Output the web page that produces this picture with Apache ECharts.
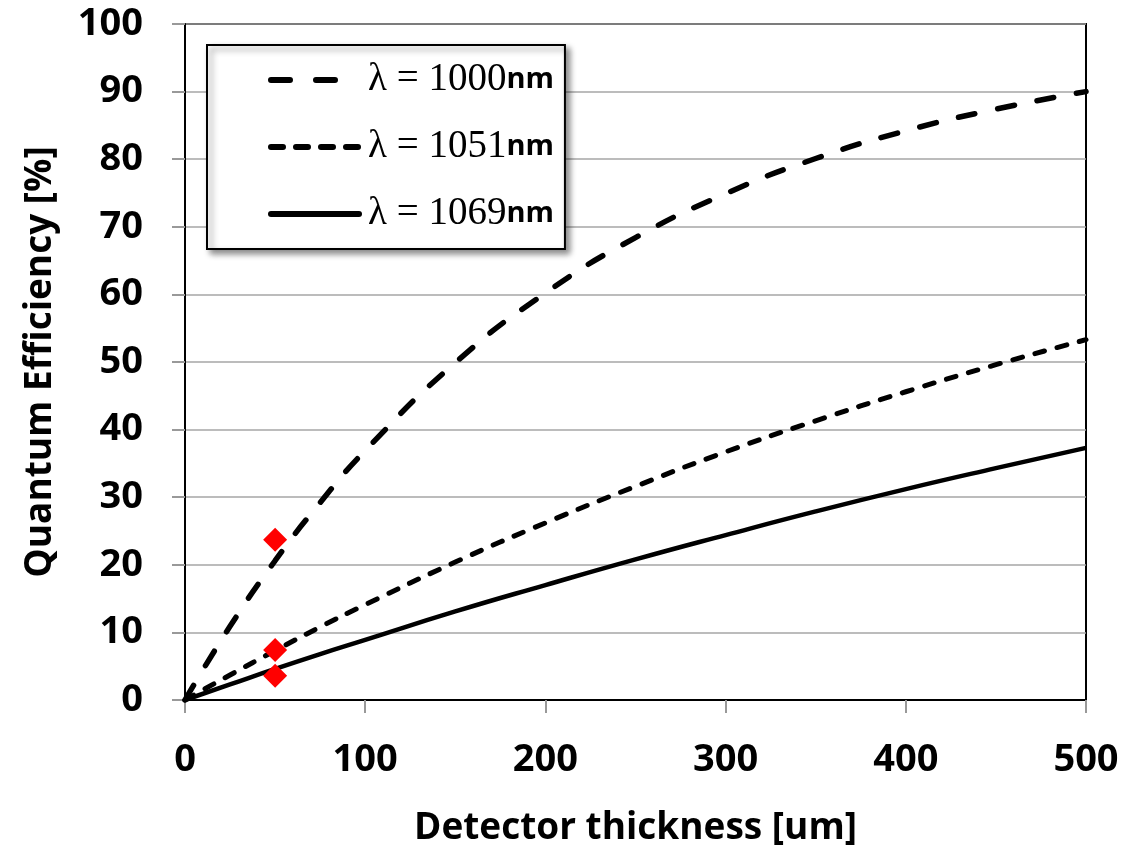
<!DOCTYPE html>
<html>
<head>
<meta charset="utf-8">
<script src="https://cdn.jsdelivr.net/npm/echarts@6/dist/echarts.min.js"></script>
<style>
  html, body { margin: 0; padding: 0; background: #fff; }
  #chart { width: 1127px; height: 846px; }
</style>
</head>
<body>
<div id="chart"></div>
<script>
  // 横坐标 (探测器厚度 um)
  const thickness = [0, 25, 50, 75, 100, 150, 200, 250, 300, 350, 400, 450, 500]
  // 量子效率 [%]
  const qe1000 = [0, 10.9, 20.6, 29.2, 36.9, 49.9, 60.2, 68.4, 74.9, 80.1, 84.2, 87.4, 90.0]
  const qe1051 = [0, 3.7, 7.3, 10.8, 14.1, 20.4, 26.2, 31.6, 36.7, 41.3, 45.6, 49.6, 53.3]
  const qe1069 = [0, 2.3, 4.6, 6.8, 8.9, 13.1, 17.0, 20.8, 24.4, 27.9, 31.2, 34.3, 37.3]
  // 测量点 (红色菱形)
  const measX = [50, 50, 50]
  const measY = [23.7, 7.4, 3.6]
  const names = ['λ = 1000nm', 'λ = 1051nm', 'λ = 1069nm']

  function pairs (xs, ys) {
    return xs.map((x, i) => [x, ys[i]])
  }

  const labelFont = { fontFamily: 'Open Sans', fontWeight: 'bold', fontSize: 38, color: '#000' }
  const nameFont = { fontFamily: 'Open Sans', fontWeight: 'bold', fontSize: 37, color: '#000' }
  // 曲线线型
  const styles = [
    { color: '#000', width: 5.5, type: [17, 23], cap: 'round' },
    { color: '#000', width: 5, type: [10, 13], cap: 'round' },
    { color: '#000', width: 4.5, type: 'solid' }
  ]
  // 图例线型 (图例里的虚线更密)
  const legendStyles = [
    { color: '#000', width: 6, type: [19, 26], cap: 'round' },
    { color: '#000', width: 6, type: [12, 13], cap: 'round' },
    { color: '#000', width: 6, type: 'solid', cap: 'round' }
  ]

  let chart = echarts.init(document.getElementById('chart'))
  chart.setOption({
    animation: false,
    grid: {
      left: 185, right: 41, top: 24, bottom: 146,
      outerBoundsMode: 'none',
      containLabel: false,
      show: true, borderColor: '#000', borderWidth: 2
    },
    legend: {
      orient: 'vertical',
      left: 207, top: 45,
      data: names.map((n, i) => ({
        name: n,
        lineStyle: legendStyles[i],
        itemStyle: { opacity: 0 }
      })),
      itemWidth: 88, itemHeight: 16,
      itemGap: 23,
      padding: [13, 11, 13, 61],
      backgroundColor: '#fff',
      borderColor: '#000', borderWidth: 2,
      shadowColor: 'rgba(0,0,0,0.45)', shadowBlur: 6, shadowOffsetX: 4, shadowOffsetY: 4,
      formatter: function (n) {
        const num = n.replace('λ = ', '').replace('nm', '')
        return '{g|λ = ' + num + '}{u|nm}'
      },
      textStyle: {
        lineHeight: 44,
        rich: {
          g: { fontFamily: 'Liberation Serif', fontSize: 39, color: '#000', lineHeight: 44, padding: [0, 0, 0, 4] },
          u: { fontFamily: 'Open Sans', fontWeight: 'bold', fontSize: 29, color: '#000', lineHeight: 44 }
        }
      }
    },
    xAxis: {
      type: 'value', min: 0, max: 500, interval: 100,
      name: 'Detector thickness [um]', nameLocation: 'middle', nameGap: 110,
      nameTextStyle: nameFont,
      axisLine: { lineStyle: { color: '#000', width: 2 } },
      axisTick: { show: true, length: 13, lineStyle: { color: '#999', width: 2 } },
      axisLabel: Object.assign({ margin: 41 }, labelFont),
      splitLine: { show: false }
    },
    yAxis: {
      type: 'value', min: 0, max: 100, interval: 10,
      name: 'Quantum Efficiency [%]', nameLocation: 'middle', nameGap: 126,
      nameTextStyle: nameFont,
      axisLine: { show: true, lineStyle: { color: '#000', width: 2 } },
      axisTick: { show: true, length: 13, lineStyle: { color: '#999', width: 2 } },
      axisLabel: Object.assign({ margin: 42 }, labelFont),
      splitLine: { show: true, lineStyle: { color: '#a6a6a6', width: 1.5 } }
    },
    series: [
      {
        name: names[0], type: 'line', smooth: true, symbol: 'none',
        data: pairs(thickness, qe1000),
        lineStyle: styles[0],
        itemStyle: { color: '#000' }
      },
      {
        name: names[1], type: 'line', smooth: true, symbol: 'none',
        data: pairs(thickness, qe1051),
        lineStyle: styles[1],
        itemStyle: { color: '#000' }
      },
      {
        name: names[2], type: 'line', smooth: true, symbol: 'none',
        data: pairs(thickness, qe1069),
        lineStyle: styles[2],
        itemStyle: { color: '#000' }
      },
      {
        name: 'measured', type: 'scatter', symbol: 'diamond', symbolSize: 24,
        data: pairs(measX, measY),
        itemStyle: { color: '#ff0000', opacity: 1 },
        z: 5
      }
    ]
  })
</script>
</body>
</html>
